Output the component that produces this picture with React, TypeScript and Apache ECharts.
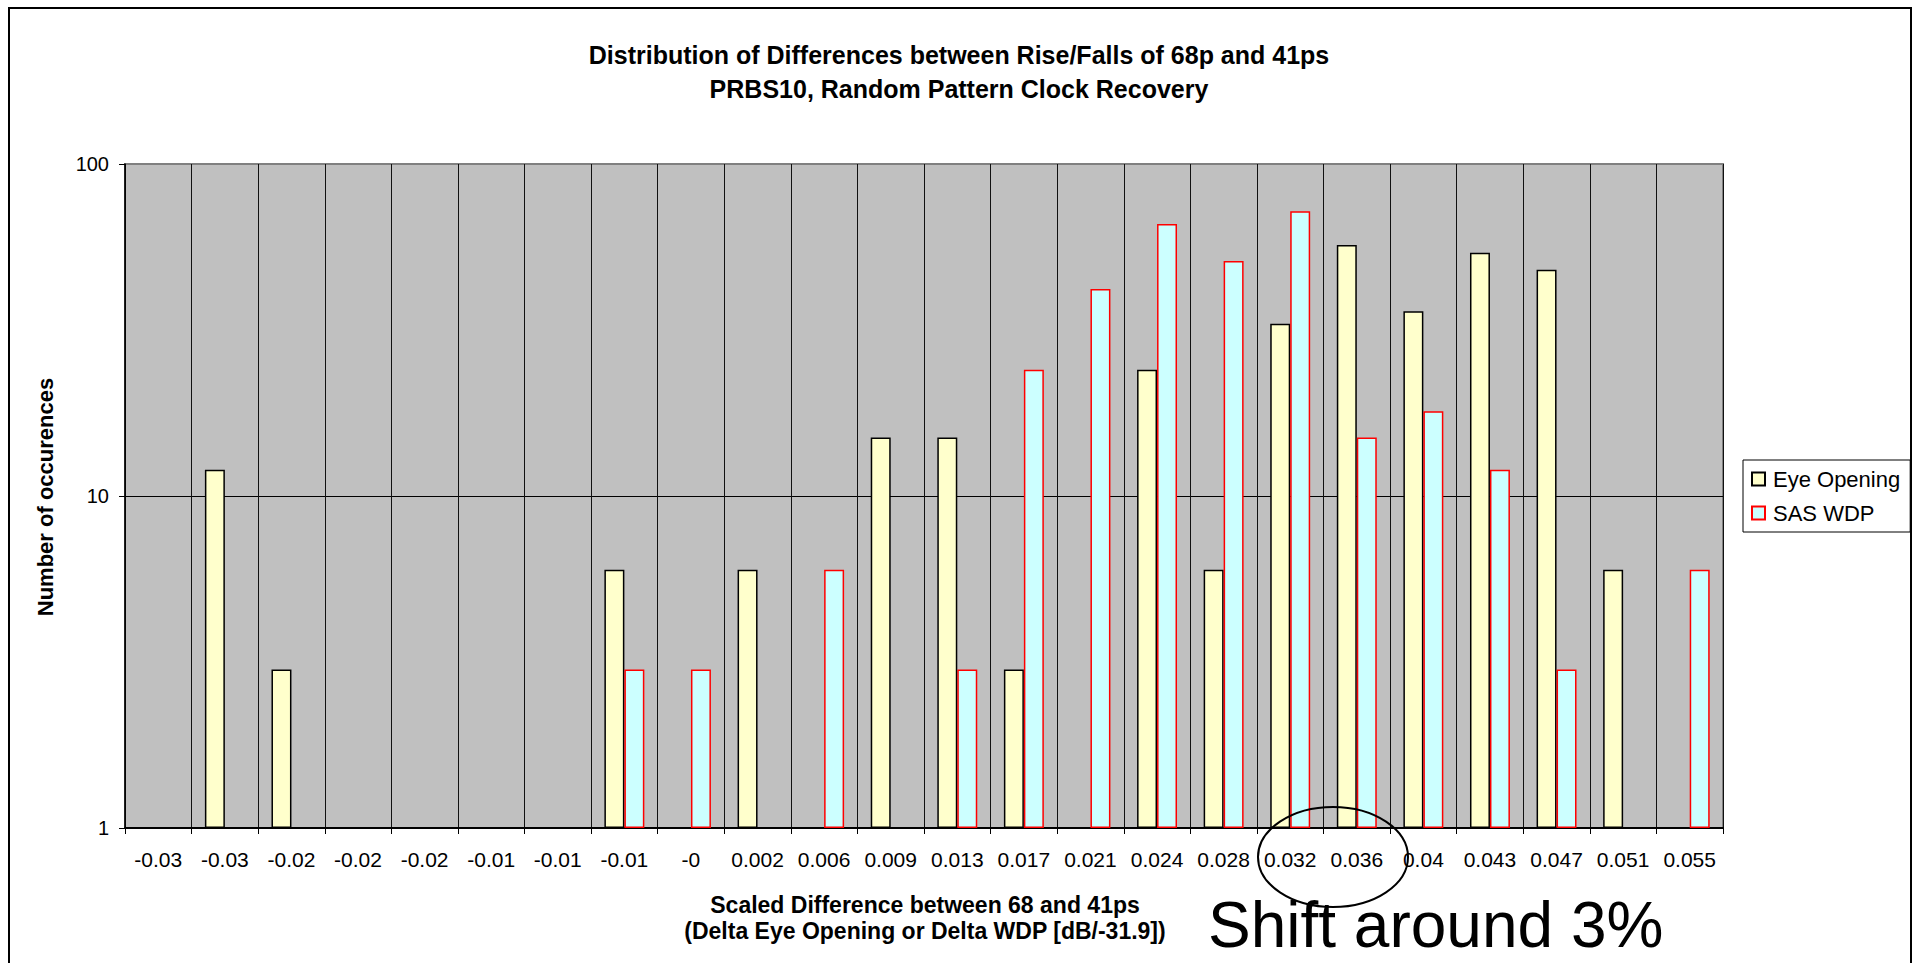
import React, { useEffect, useRef } from "react";
import * as echarts from "echarts";

const categories = [
  "-0.03", "-0.03", "-0.02", "-0.02", "-0.02", "-0.01", "-0.01", "-0.01", "-0",
  "0.002", "0.006", "0.009", "0.013", "0.017", "0.021", "0.024", "0.028", "0.032",
  "0.036", "0.04", "0.043", "0.047", "0.051", "0.055",
];
const eyeOpening = [null, 12, 3, null, null, null, null, 6, null, 6, null, 15, 15, 3, null, 24, 6, 33, 57, 36, 54, 48, 6, null];
const sasWdp = [null, null, null, null, null, null, null, 3, 3, null, 6, null, 3, 24, 42, 66, 51, 72, 15, 18, 12, 3, null, 6];

const seriesNames = ["Eye Opening", "SAS WDP"];
const titleLines = [
  "Distribution of Differences between Rise/Falls of 68p and 41ps",
  "PRBS10, Random Pattern Clock Recovery",
];
const xTitleLines = [
  "Scaled Difference between 68 and 41ps",
  "(Delta Eye Opening or Delta WDP [dB/-31.9])",
];
const yTitle = "Number of occurences";
const annotation = "Shift around 3%";

const FONT = 'Arial, "Liberation Sans", sans-serif';

export default function App() {
  const ref = useRef<HTMLDivElement>(null);
  useEffect(() => {
    if (!ref.current) return;
    const chart = echarts.init(ref.current, null, { renderer: "svg" });
    chart.setOption({
      animation: false,
      backgroundColor: "#fff",
      textStyle: { fontFamily: FONT },
      grid: {
        left: 125,
        right: 192,
        top: 164,
        bottom: 135,
        show: true,
        backgroundColor: "#C0C0C0",
        borderColor: "#808080",
        borderWidth: 2,
      },
      legend: {
        orient: "vertical",
        left: 1743,
        top: 460,
        padding: [8, 10, 8, 8],
        itemWidth: 13,
        itemHeight: 13,
        itemGap: 12,
        borderColor: "#000",
        borderWidth: 1,
        backgroundColor: "#fff",
        icon: "rect",
        data: seriesNames,
        textStyle: { fontSize: 22, color: "#000", fontFamily: FONT, padding: [0, 0, 0, 3] },
      },
      xAxis: {
        type: "category",
        data: categories,
        boundaryGap: true,
        axisLine: { lineStyle: { color: "#000", width: 2 } },
        axisTick: { show: true, length: 6, lineStyle: { color: "#000", width: 1 }, interval: 0 },
        axisLabel: { interval: 0, fontSize: 21, color: "#000", margin: 21, fontFamily: FONT },
        splitLine: { show: true, interval: 0, lineStyle: { color: "#111", width: 1 } },
      },
      yAxis: {
        type: "log",
        logBase: 10,
        min: 1,
        max: 100,
        axisLine: { show: true, lineStyle: { color: "#000", width: 1.5 } },
        axisTick: { show: true, length: 6, lineStyle: { color: "#000", width: 1 } },
        axisLabel: { fontSize: 20, color: "#000", margin: 16, fontFamily: FONT },
        splitLine: { show: true, showMaxLine: false, lineStyle: { color: "#000", width: 1 } },
        minorTick: { show: false },
        minorSplitLine: { show: false },
      },
      series: [
        {
          name: seriesNames[0],
          type: "bar",
          data: eyeOpening,
          barGap: "0%",
          barCategoryGap: "40%",
          itemStyle: { color: "#FFFFCC", borderColor: "#000", borderWidth: 1.5 },
        },
        {
          name: seriesNames[1],
          type: "bar",
          data: sasWdp,
          barGap: "0%",
          barCategoryGap: "40%",
          itemStyle: { color: "#CCFFFF", borderColor: "#FF0000", borderWidth: 1.5 },
        },
      ],
      graphic: [
        {
          type: "rect",
          silent: true,
          shape: { x: 9, y: 8, width: 1902, height: 1000 },
          style: { fill: "none", stroke: "#000", lineWidth: 2 },
          z: 100,
        },
        {
          type: "text",
          x: 959,
          y: 55,
          style: { text: titleLines[0], font: `bold 25px ${FONT}`, fill: "#000", align: "center", verticalAlign: "middle" },
        },
        {
          type: "text",
          x: 959,
          y: 89,
          style: { text: titleLines[1], font: `bold 25px ${FONT}`, fill: "#000", align: "center", verticalAlign: "middle" },
        },
        {
          type: "text",
          x: 925,
          y: 905,
          style: { text: xTitleLines[0], font: `bold 23px ${FONT}`, fill: "#000", align: "center", verticalAlign: "middle" },
        },
        {
          type: "text",
          x: 925,
          y: 931,
          style: { text: xTitleLines[1], font: `bold 23px ${FONT}`, fill: "#000", align: "center", verticalAlign: "middle" },
        },
        {
          type: "text",
          x: 45,
          y: 497,
          rotation: Math.PI / 2,
          style: { text: yTitle, font: `bold 22px ${FONT}`, fill: "#000", align: "center", verticalAlign: "middle" },
        },
        {
          type: "ellipse",
          shape: { cx: 1333, cy: 857, rx: 75, ry: 50 },
          style: { fill: "none", stroke: "#000", lineWidth: 2 },
          z: 50,
        },
        {
          type: "text",
          x: 1208,
          y: 925,
          style: { text: annotation, font: `64px ${FONT}`, fill: "#000", align: "left", verticalAlign: "middle" },
          z: 50,
        },
      ],
    });
    return () => chart.dispose();
  }, []);
  return (
    <div
      ref={ref}
      style={{ position: "absolute", left: 0, top: 0, width: 1915, height: 963 }}
    />
  );
}
